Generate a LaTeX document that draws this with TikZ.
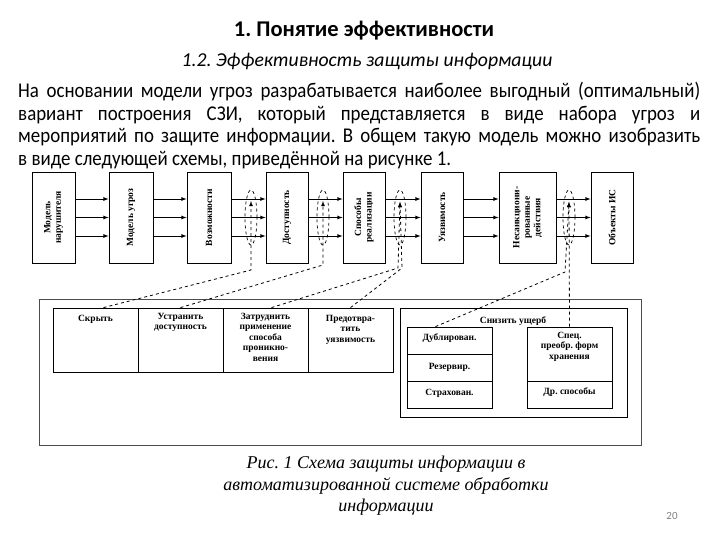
\documentclass[tikz,border=0pt]{standalone}
\usepackage{fontspec}
\setmainfont{Liberation Serif}
\newfontfamily\calib{Carlito}
\newfontfamily\calibn[FakeStretch=0.9]{Carlito}
\newfontfamily\capfont{Liberation Serif}
\usetikzlibrary{shapes.geometric}

\tikzset{
  blk/.style={draw, line width=0.8pt, minimum height=91pt, inner sep=0pt},
  vtxt/.style={rotate=90, align=center, inner sep=0pt, font=\bfseries\fontsize{9.5}{10.5}\selectfont},
  cell/.style={draw, line width=0.8pt, inner sep=0pt},
  ctxt/.style={anchor=north, align=center, inner sep=0pt, font=\bfseries\fontsize{9.5}{10.5}\selectfont},
  oval/.style={draw, dashed, ellipse, minimum width=12pt, minimum height=55pt, inner sep=0pt, line width=0.7pt},
  link/.style={dashed, line width=0.8pt, -latex},
}

\begin{document}
\frenchspacing
\begin{tikzpicture}[x=1pt,y=-1pt]
  \useasboundingbox (0,0) rectangle (720,540);

  % header
  \node[font=\calib\bfseries\fontsize{22.5}{26}\selectfont] (title) at (364,31) {1. Понятие эффективности};
  \node[font=\calib\itshape\fontsize{19.7}{22}\selectfont] (subtitle) at (367,61) {1.2. Эффективность защиты информации};
  \node[anchor=north west, inner sep=0pt, text width=682pt, align=justify,
        font=\calibn\fontsize{21}{22.6}\selectfont] (intro) at (18,82)
    {На основании модели угроз разрабатывается наиболее выгодный (оптимальный)\linebreak
     вариант построения СЗИ, который представляется в виде набора угроз и\linebreak
     мероприятий по защите информации. В общем такую модель можно изобразить\linebreak
     в виде следующей схемы, приведённой на рисунке 1.};

  % top row
  \node[blk, minimum width=43pt] (b1) at (53.5,217.5) {};
  \node[blk, minimum width=44pt] (b2) at (131,217.5) {};
  \node[blk, minimum width=44pt] (b3) at (209,217.5) {};
  \node[blk, minimum width=42pt] (b4) at (287,217.5) {};
  \node[blk, minimum width=42pt] (b5) at (364,217.5) {};
  \node[blk, minimum width=42pt] (b6) at (442,217.5) {};
  \node[blk, minimum width=57pt] (b7) at (527.5,217.5) {};
  \node[blk, minimum width=42pt] (b8) at (612,217.5) {};
  \node[vtxt] (b1t) at (b1) {Модель\\нарушителя};
  \node[vtxt] (b2t) at (b2) {Модель угроз};
  \node[vtxt] (b3t) at (b3) {Возможности};
  \node[vtxt] (b4t) at (b4) {Доступность};
  \node[vtxt] (b5t) at (b5) {Способы\\реализации};
  \node[vtxt] (b6t) at (b6) {Уязвимость};
  \node[vtxt] (b7t) at (b7) {Несанкциони-\\рованные\\действия};
  \node[vtxt] (b8t) at (b8) {Объекты ИС};
  \foreach \a/\b in {b1/b2,b2/b3,b3/b4,b4/b5,b5/b6,b6/b7,b7/b8}
    \foreach \dy in {18.5,0,-18.5}
      \draw[-latex, line width=0.8pt] ([yshift=\dy pt]\a.east) -- ([yshift=\dy pt]\b.west);

  % dashed ovals on the flows
  \node[oval] (e1) at (251,217.5) {};
  \node[oval] (e2) at (323,217.5) {};
  \node[oval] (e3) at (400,217.5) {};
  \node[oval] (e4) at (569,217.5) {};
  \coordinate (t1) at (251,201);
  \coordinate (t2) at (323,201);
  \coordinate (t3) at (400,202);
  \coordinate (t4) at (569,202);
  \coordinate (k1) at (251,270);
  \coordinate (k2) at (323,265);
  \coordinate (k3a) at (398,268);
  \coordinate (k3b) at (402,268);
  \coordinate (k4) at (565,272);

  % measures
  \draw[gray!60!black, line width=0.8pt] (39,299) rectangle (641,445);
  \node[cell, minimum width=85pt, minimum height=64pt] (c1) at (95.5,340) {};
  \node[cell, minimum width=85pt, minimum height=64pt] (c2) at (180.5,340) {};
  \node[cell, minimum width=85pt, minimum height=64pt] (c3) at (265.5,340) {};
  \node[cell, minimum width=85pt, minimum height=64pt] (c4) at (350.5,340) {};
  \node[ctxt] (c1t) at ([yshift=-7pt]c1.north) {Скрыть};
  \node[ctxt] (c2t) at ([yshift=-5pt]c2.north) {Устранить\\доступность};
  \node[ctxt] (c3t) at ([yshift=-5pt]c3.north) {Затруднить\\применение\\способа\\проникно-\\вения};
  \node[ctxt] (c4t) at ([yshift=-7pt]c4.north) {Предотвра-\\тить\\уязвимость};

  \draw[line width=0.8pt] (400,308) rectangle (627,417);
  \node[ctxt, anchor=center] (dmg) at (513,321) {Снизить ущерб};
  \node[cell, minimum width=85pt, minimum height=27pt] (d1) at (449.5,340.5) {};
  \node[cell, minimum width=85pt, minimum height=27pt] (d2) at (449.5,367.5) {};
  \node[cell, minimum width=85pt, minimum height=27pt] (d3) at (449.5,394.5) {};
  \node[cell, minimum width=85pt, minimum height=54pt] (s1) at (569.5,354) {};
  \node[cell, minimum width=85pt, minimum height=27pt] (s2) at (569.5,394.5) {};
  \node[ctxt, anchor=center] (d1t) at ([yshift=2pt]d1) {Дублирован.};
  \node[ctxt, anchor=center] (d2t) at (d2) {Резервир.};
  \node[ctxt, anchor=center] (d3t) at ([yshift=1pt]d3) {Страхован.};
  \node[ctxt] (s1t) at ([yshift=-5pt]s1.north) {Спец.\\преобр. форм\\хранения};
  \node[ctxt, anchor=center] (s2t) at ([yshift=2pt]s2) {Др. способы};

  % dashed links
  \draw[link] ([xshift=8pt]c1.north) -- (k1) -- (t1);
  \draw[link] (c2.north) -- (k2) -- (t2);
  \draw[link] ([xshift=6pt]c3.north) -- (k3a) -- (t3);
  \draw[link] (c4.north) -- (k3b) -- (t3);
  \draw[link] ([xshift=-14pt]d1.north) -- (k4) -- (t4);
  \draw[link] (s1.north) -- (t4);

  % caption
  \node[align=center, font=\capfont\itshape\fontsize{18}{21.5}\selectfont] (cap) at (386,486)
    {Рис. 1 Схема защиты информации в\\автоматизированной системе обработки\\информации};
  \node[text=gray, font=\calib\fontsize{11}{13}\selectfont] (pg) at (672,516) {20};
\end{tikzpicture}
\end{document}
